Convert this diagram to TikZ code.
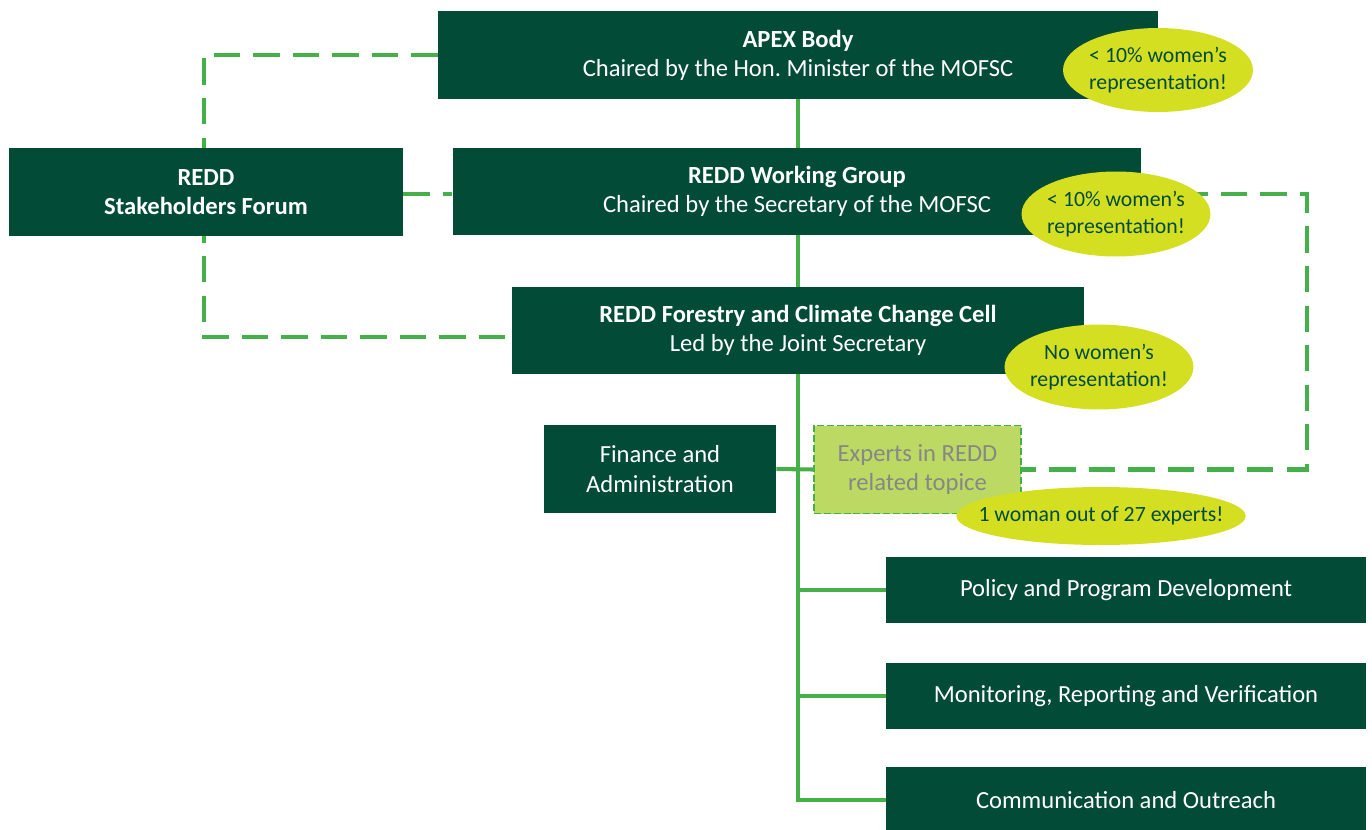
\documentclass[tikz,border=0pt]{standalone}
\usepackage{fontspec}
\setmainfont{Carlito}
\usetikzlibrary{shapes.geometric,backgrounds}
\definecolor{deepgreen}{HTML}{024C37}
\definecolor{wiregreen}{HTML}{45AF4A}
\definecolor{lime}{HTML}{D5DF22}
\definecolor{palelime}{HTML}{BBD963}
\tikzset{
  unit/.style = {rectangle, inner sep=0pt, align=center, fill=deepgreen,
    text=white, font=\fontsize{14}{16.6}\selectfont},
  unit_top/.style = {unit, minimum height=1.76cm},% upper tier boxes
  unit_low/.style = {unit, minimum width=9.6cm, minimum height=1.32cm},% task groups
  expert/.style = {unit, fill=palelime, text=black!47, draw=wiregreen,
    line width=1.1pt, dash pattern=on 4pt off 1.6pt},
  remark/.style = {ellipse, inner sep=-5pt, align=center, fill=lime,
    text=deepgreen, font=\fontsize{12.4}{15.2}\selectfont},
  trunk/.style = {draw=wiregreen, line width=2.3pt},
  link/.style = {draw=wiregreen, line width=2.4pt, dash pattern=on 15pt off 7.5pt}
}
\begin{document}
\begin{tikzpicture}[x=0.02cm, y=-0.02cm]
  \useasboundingbox (0,0) rectangle (1372,829);

  % boxes
  \node [unit_top, minimum width=14.4cm] (apex) at (798,55)
    {\textbf{APEX Body}\\Chaired by the Hon.\ Minister of the MOFSC};
  \node [unit_top, minimum width=7.88cm] (forum) at (206,192)
    {\textbf{REDD}\\\textbf{Stakeholders Forum}};
  \node [unit_top, minimum width=13.78cm, minimum height=1.74cm] (wg) at (797,191.5)
    {\textbf{REDD Working Group}\\Chaired by the Secretary of the MOFSC};
  \node [unit_top, minimum width=11.46cm, minimum height=1.74cm] (cell) at (798,330.5)
    {\textbf{REDD Forestry and Climate Change Cell}\\Led by the Joint Secretary};
  \node [unit_top, minimum width=4.64cm] (finance) at (660,469)
    {Finance and\\Administration};
  \node [expert, minimum width=4.14cm, minimum height=1.76cm] (experts) at (917.5,469.5)
    {Experts in REDD\\related topice};
  \node [unit_low] (policy) at (1126,590) {Policy and Program Development};
  \node [unit_low] (mrv) at (1126,696) {Monitoring, Reporting and Verification};
  \node [unit_low] (comm) at (1126,800) {Communication and Outreach};

  \coordinate (lbend) at (204,55);
  \coordinate (lfoot) at (204,337);
  \coordinate (rbend) at (1307,194);

  \begin{scope}[on background layer]
    % chain of command
    \draw [trunk] (apex) -- (apex |- comm) -- (comm.west);
    \draw [trunk] (finance.east) -- (experts.west);
    \draw [trunk] (apex |- policy) -- (policy.west);
    \draw [trunk] (apex |- mrv) -- (mrv.west);
    % consultation links
    \draw [link] (apex.west) -- (lbend) -- (lfoot) -- (lfoot -| cell.west);
    \draw [link] (forum.east |- rbend) -- (wg.west |- rbend);
    \draw [link] (wg.east |- rbend) -- (rbend) -- (rbend |- experts.east) -- (experts.east);
  \end{scope}

  % notes on representation
  \node [remark, minimum width=3.8cm, minimum height=1.68cm] (n_apex) at (1158,70)
    {< 10\% women’s\\representation!};
  \node [remark, minimum width=3.78cm, minimum height=1.7cm] (n_wg) at (1116,214)
    {< 10\% women’s\\representation!};
  \node [remark, minimum width=3.78cm, minimum height=1.7cm] (n_cell) at (1099,367)
    {No women’s\\representation!};
  \node [remark, inner xsep=-11.5pt, minimum width=5.78cm, minimum height=1.16cm] (n_experts) at (1101,516)
    {1 woman out of 27 experts!};
\end{tikzpicture}
\end{document}
